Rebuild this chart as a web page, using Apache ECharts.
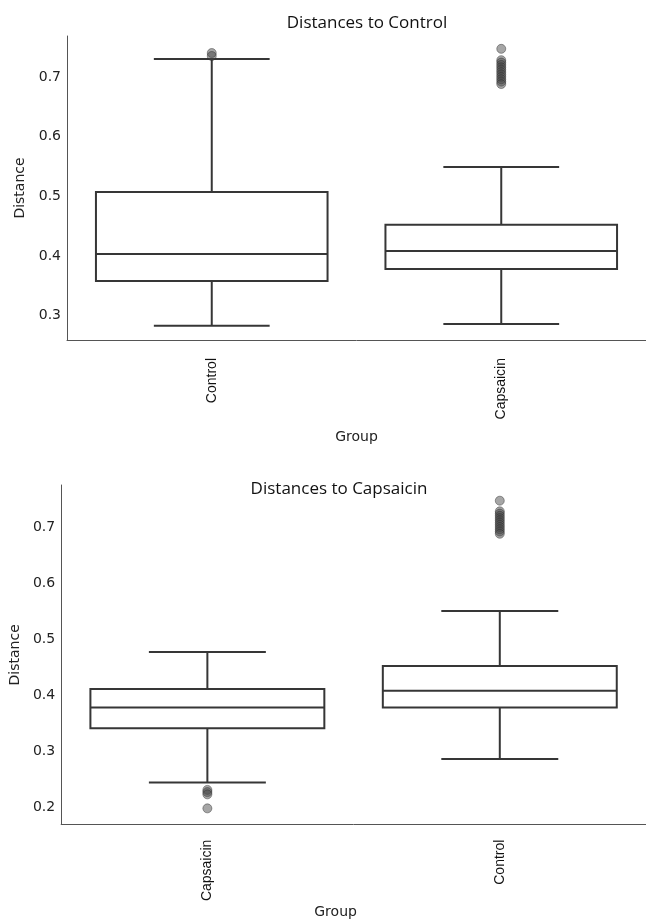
<!DOCTYPE html>
<html><head><meta charset="utf-8">
<script src="https://cdn.jsdelivr.net/npm/echarts@6/dist/echarts.min.js"></script>
<style>html,body{margin:0;padding:0;background:#fff}#c{width:646px;height:920px}</style>
</head><body><div id="c"></div>
<script>
// ---- data ----
const topCategories = ['Control', 'Capsaicin'];
// [lower whisker, Q1, median, Q3, upper whisker]
const topBoxStats = [
  [0.283, 0.358, 0.403, 0.507, 0.730],
  [0.286, 0.378, 0.408, 0.452, 0.549]
];
const topOutliers = [
  [0, 0.740], [0, 0.735],
  [1, 0.747], [1, 0.728], [1, 0.724], [1, 0.720], [1, 0.716], [1, 0.712],
  [1, 0.708], [1, 0.704], [1, 0.700], [1, 0.696], [1, 0.692], [1, 0.688]
];
const bottomCategories = ['Capsaicin', 'Control'];
const bottomBoxStats = [
  [0.245, 0.342, 0.379, 0.412, 0.478],
  [0.287, 0.379, 0.409, 0.453, 0.551]
];
const bottomOutliers = [
  [0, 0.232], [0, 0.228], [0, 0.224], [0, 0.199],
  [1, 0.748], [1, 0.729], [1, 0.725], [1, 0.721], [1, 0.717], [1, 0.713],
  [1, 0.709], [1, 0.705], [1, 0.701], [1, 0.697], [1, 0.693], [1, 0.689]
];
const topYTicks = [0.3, 0.4, 0.5, 0.6, 0.7];
const bottomYTicks = [0.2, 0.3, 0.4, 0.5, 0.6, 0.7];

// ---- rendering ----
const STROKE = '#363636';
function renderBox(params, api) {
  const x = api.value(0);
  const pMin = api.coord([x, api.value(1)]);
  const pQ1 = api.coord([x, api.value(2)]);
  const pMed = api.coord([x, api.value(3)]);
  const pQ3 = api.coord([x, api.value(4)]);
  const pMax = api.coord([x, api.value(5)]);
  const band = api.size([1, 0])[0];
  const bw = band * 0.8, cw = band * 0.4;
  const cx = pMed[0];
  const ls = { stroke: STROKE, lineWidth: 2, fill: null };
  return {
    type: 'group',
    children: [
      { type: 'line', shape: { x1: cx, y1: pQ3[1], x2: cx, y2: pMax[1] }, style: ls },
      { type: 'line', shape: { x1: cx, y1: pQ1[1], x2: cx, y2: pMin[1] }, style: ls },
      { type: 'line', shape: { x1: cx - cw / 2, y1: pMax[1], x2: cx + cw / 2, y2: pMax[1] }, style: ls },
      { type: 'line', shape: { x1: cx - cw / 2, y1: pMin[1], x2: cx + cw / 2, y2: pMin[1] }, style: ls },
      { type: 'rect', shape: { x: cx - bw / 2, y: pQ3[1], width: bw, height: pQ1[1] - pQ3[1] },
        style: { stroke: STROKE, lineWidth: 2, fill: '#ffffff' } },
      { type: 'line', shape: { x1: cx - bw / 2, y1: pMed[1], x2: cx + bw / 2, y2: pMed[1] }, style: ls }
    ]
  };
}

const tickFont = { fontFamily: 'DejaVu Sans', fontSize: 14, color: '#222' };
function xAxisCfg(idx, cats, margin, nameGap, namePad) {
  return {
    gridIndex: idx, type: 'category', data: cats,
    axisLine: { lineStyle: { color: '#555', width: 1 } },
    axisTick: { show: false },
    axisLabel: { rotate: 90, margin: margin, fontFamily: 'Liberation Sans', fontSize: 14, color: '#111' },
    splitLine: { show: false },
    name: 'Group', nameLocation: 'middle', nameGap: nameGap,
    nameTextStyle: { fontFamily: 'DejaVu Sans', fontSize: 14, color: '#222', padding: namePad }
  };
}
function yAxisCfg(idx, min, max, ticks) {
  return {
    gridIndex: idx, type: 'value', min: min, max: max,
    axisLine: { show: true, lineStyle: { color: '#555', width: 1 } },
    axisTick: { show: false },
    splitLine: { show: false },
    axisLabel: Object.assign({ customValues: ticks, margin: 6, formatter: v => v.toFixed(1) }, tickFont),
    name: 'Distance', nameLocation: 'middle', nameGap: 34, nameRotate: 90,
    nameTextStyle: { fontFamily: 'DejaVu Sans', fontSize: 14, color: '#222' }
  };
}
const outlierStyle = { color: 'rgba(70,70,70,0.6)', borderColor: 'rgba(40,40,40,0.55)', borderWidth: 1 };

const chart = echarts.init(document.getElementById('c'), null, { renderer: 'canvas' });
chart.setOption({
  animation: false,
  backgroundColor: '#ffffff',
  title: [
    { text: 'Distances to Control', left: 362, top: 10, textAlign: 'center',
      textStyle: { fontFamily: 'Open Sans', fontSize: 17, fontWeight: 'normal', color: '#111' } },
    { text: 'Distances to Capsaicin', left: 334, top: 476, textAlign: 'center',
      textStyle: { fontFamily: 'Open Sans', fontSize: 17, fontWeight: 'normal', color: '#111' } }
  ],
  grid: [
    { left: 67, top: 36, width: 582, height: 304 },
    { left: 58, top: 485, width: 590, height: 344 }
  ],
  xAxis: [
    xAxisCfg(0, topCategories, 18, 90, [0, 0, 0, 0]),
    xAxisCfg(1, bottomCategories, 15, 78, [0, 36, 0, 0])
  ],
  yAxis: [
    yAxisCfg(0, 0.259, 0.7685, topYTicks),
    yAxisCfg(1, 0.170, 0.776, bottomYTicks)
  ],
  series: [
    { type: 'custom', xAxisIndex: 0, yAxisIndex: 0, renderItem: renderBox,
      encode: { x: 0, y: [1, 2, 3, 4, 5] },
      data: topBoxStats.map((s, i) => [i].concat(s)) },
    { type: 'scatter', xAxisIndex: 0, yAxisIndex: 0, symbolSize: 9, itemStyle: outlierStyle, z: 5,
      data: topOutliers },
    { type: 'custom', xAxisIndex: 1, yAxisIndex: 1, renderItem: renderBox,
      encode: { x: 0, y: [1, 2, 3, 4, 5] },
      data: bottomBoxStats.map((s, i) => [i].concat(s)) },
    { type: 'scatter', xAxisIndex: 1, yAxisIndex: 1, symbolSize: 9, itemStyle: outlierStyle, z: 5,
      data: bottomOutliers }
  ]
});
</script></body></html>
